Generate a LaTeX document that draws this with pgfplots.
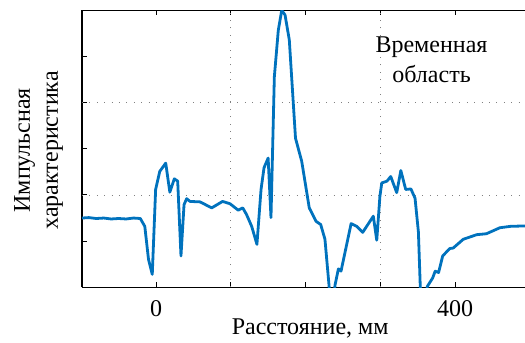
\documentclass[border=0pt]{standalone}
\usepackage{fontspec}
\setmainfont{Liberation Serif}
\usepackage{pgfplots}
\pgfplotsset{compat=1.18}
\definecolor{mblue}{RGB}{0,114,189}
\begin{document}
\fontsize{24pt}{30pt}\selectfont
\begin{tikzpicture}
\useasboundingbox (-82pt,-55pt) rectangle (443pt,287.3pt);
\begin{axis}[
  at={(0,0)}, anchor=south west,
  scale only axis, width=443pt, height=277pt,
  xmin=-99, xmax=493.6, ymin=0, ymax=6,
  axis x line=box, axis y line*=left,
  axis line style={line width=1.2pt, black},
  tick style={line width=1pt, black},
  major tick length=5pt,
  tick align=inside,
  xtick={0,100,200,300,400}, xticklabels={0,,,,400},
  ytick={1,2,3,4,5}, yticklabels={},
  extra x ticks={100,300}, extra x tick labels={},
  extra x tick style={grid=major, tick style={draw=none}},
  extra y ticks={2,4}, extra y tick labels={},
  extra y tick style={grid=major, tick style={draw=none}},
  major grid style={gray, line width=0.9pt, dash pattern=on 0.9pt off 6.5pt},
  /pgf/number format/assume math mode=true,
  ticklabel style={font=\fontsize{24pt}{30pt}\selectfont},
  xticklabel style={anchor=base, yshift=-29.7pt},
  xlabel={Расстояние, мм},
  xlabel style={at={(rel axis cs:0.515,0)}, anchor=base, yshift=-47pt, font=\fontsize{24pt}{30pt}\selectfont},
]
\addplot[mblue, line width=2.8pt, line join=round] coordinates {
(-99,1.50) (-90,1.51) (-80,1.49) (-70,1.50) (-60,1.48) (-50,1.49) (-40,1.48) (-30,1.50) (-21,1.49)
(-15,1.32) (-10,0.60) (-5,0.28) (-0.5,2.12) (5,2.51) (13,2.69) (18.5,2.06) (24.5,2.35) (29,2.30)
(33.4,0.68) (37.5,1.79) (41,1.92) (45.5,1.86) (59,1.85) (74.5,1.72) (89,1.86) (99,1.81) (110,1.67)
(116,1.72) (121,1.58) (128,1.32) (135,0.93) (140.5,2.12) (144.5,2.59) (150,2.80) (153.8,1.51)
(158.3,4.56) (163.6,5.57) (168.2,6.0) (172.6,5.90) (178.3,5.36) (186.6,3.23) (194.9,2.73)
(205,1.72) (214,1.43) (220.3,1.36) (226,1.04) (231.4,0.05) (233,-0.3) (237,-0.3) (239.5,0.05)
(244,0.40) (247.5,0.35) (261,1.38) (268.5,1.32) (276.5,1.19) (290.7,1.54) (295.3,1.02)
(299.5,1.97) (302,2.26) (309,2.30) (314,2.40) (322,2.05) (327.5,2.53) (334,2.12) (341,2.13)
(346.5,1.93) (351,1.2) (353.5,0.02) (355,-0.3) (360,-0.3) (363,0.02) (370,0.2) (373.5,0.35)
(378,0.32) (383.5,0.68) (393,0.84) (397.5,0.85) (411,1.04) (429,1.14) (442,1.16) (460,1.29)
(474,1.32) (494,1.33)
};
\end{axis}
\node[rotate=90, align=center, font=\fontsize{24pt}{28pt}\selectfont] at (-43.5pt,137pt) {Импульсная\\характеристика};
\node[anchor=base, font=\fontsize{24pt}{30pt}\selectfont] at (349.5pt,234.7pt) {Временная};
\node[anchor=base, font=\fontsize{24pt}{30pt}\selectfont] at (349.5pt,204.7pt) {область};
\end{tikzpicture}
\end{document}
